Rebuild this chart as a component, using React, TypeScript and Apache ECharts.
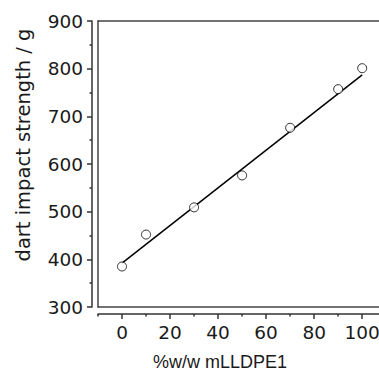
import React, { useEffect, useRef } from "react";
import * as echarts from "echarts";

const blendPercent = [0, 10, 30, 50, 70, 90, 100];
const dartImpact = [385, 452, 509, 576, 676, 757, 801];
const fitX = [0, 100];
const fitY = [392, 787];
const xMajorTicks = [0, 20, 40, 60, 80, 100];
const xMinorTicks = [-10, 10, 30, 50, 70, 90];
const yTitle = "dart impact strength / g";
const xTitle = "%w/w mLLDPE1";

export default function App() {
  const ref = useRef<HTMLDivElement>(null);
  useEffect(() => {
    if (!ref.current) return;
    const chart = echarts.init(ref.current, null, { renderer: "svg" });
    const axisColor = "#333";
    const frameColor = "#444";
    const textColor = "#1a1a1a";
    const tickFont = { fontFamily: "DejaVu Sans", fontSize: 18.5, color: textColor };
    const xMin = -10;
    const xMax = 107;
    const frameX = (position: string) => ({
      type: "value",
      min: xMin,
      max: xMax,
      position,
      offset: 0,
      axisLine: { show: true, onZero: false, lineStyle: { color: frameColor, width: 1.5 } },
      axisTick: { show: false },
      axisLabel: { show: false },
      splitLine: { show: false },
    });
    chart.setOption({
      animation: false,
      backgroundColor: "#fff",
      grid: {
        left: 98,
        top: 21,
        right: 0,
        bottom: 66,
        show: false,
        containLabel: false,
        outerBoundsMode: "none",
      },
      xAxis: [
        {
          type: "value",
          min: xMin,
          max: xMax,
          position: "bottom",
          offset: 7,
          axisLine: { show: true, onZero: false, lineStyle: { color: axisColor, width: 1.5 } },
          axisTick: { show: true, length: 5, customValues: xMajorTicks, lineStyle: { color: axisColor, width: 1.5 } },
          axisLabel: { show: true, customValues: xMajorTicks, margin: 9, ...tickFont },
          splitLine: { show: false },
        },
        {
          type: "value",
          min: xMin,
          max: xMax,
          offset: 7,
          position: "bottom",
          axisLine: { show: false },
          axisTick: { show: true, length: 2.5, customValues: xMinorTicks, lineStyle: { color: axisColor, width: 1.5 } },
          axisLabel: { show: false },
          splitLine: { show: false },
        },
        frameX("top"),
        frameX("bottom"),
      ],
      yAxis: [
        {
          type: "value",
          min: 300,
          max: 900,
          interval: 100,
          position: "left",
          offset: 6,
          axisLine: { show: true, onZero: false, lineStyle: { color: axisColor, width: 1.5 } },
          axisTick: { show: true, length: 5, lineStyle: { color: axisColor, width: 1.5 } },
          minorTick: { show: true, splitNumber: 2, length: 2.5, lineStyle: { color: axisColor, width: 1.5 } },
          axisLabel: { margin: 9, ...tickFont },
          splitLine: { show: false },
        },
        {
          type: "value",
          min: 300,
          max: 900,
          interval: 100,
          position: "left",
          offset: 0,
          axisLine: { show: true, onZero: false, lineStyle: { color: frameColor, width: 1.5 } },
          axisTick: { show: false },
          axisLabel: { show: false },
          splitLine: { show: false },
        },
      ],
      graphic: [
        {
          type: "text",
          x: 23,
          y: 145,
          rotation: Math.PI / 2,
          style: {
            text: yTitle,
            fontFamily: "DejaVu Sans",
            fontSize: 19.5,
            fill: textColor,
            align: "center",
            verticalAlign: "middle",
          },
        },
        {
          type: "text",
          x: 220,
          y: 362,
          style: {
            text: xTitle,
            fontFamily: "Liberation Sans",
            fontSize: 18,
            fill: textColor,
            align: "center",
            verticalAlign: "middle",
          },
        },
      ],
      series: [
        {
          type: "line",
          xAxisIndex: 0,
          yAxisIndex: 0,
          data: fitX.map((x, i) => [x, fitY[i]]),
          symbol: "none",
          lineStyle: { color: "#000", width: 1.5 },
          z: 2,
        },
        {
          type: "scatter",
          xAxisIndex: 0,
          yAxisIndex: 0,
          data: blendPercent.map((x, i) => [x, dartImpact[i]]),
          symbol: "circle",
          symbolSize: 9,
          itemStyle: { color: "#fff", borderColor: "#000", borderWidth: 1 },
          z: 3,
        },
      ],
    });
    return () => chart.dispose();
  }, []);
  return (
    <div
      ref={ref}
      style={{ position: "absolute", left: 0, top: 0, width: 379, height: 373 }}
    />
  );
}
